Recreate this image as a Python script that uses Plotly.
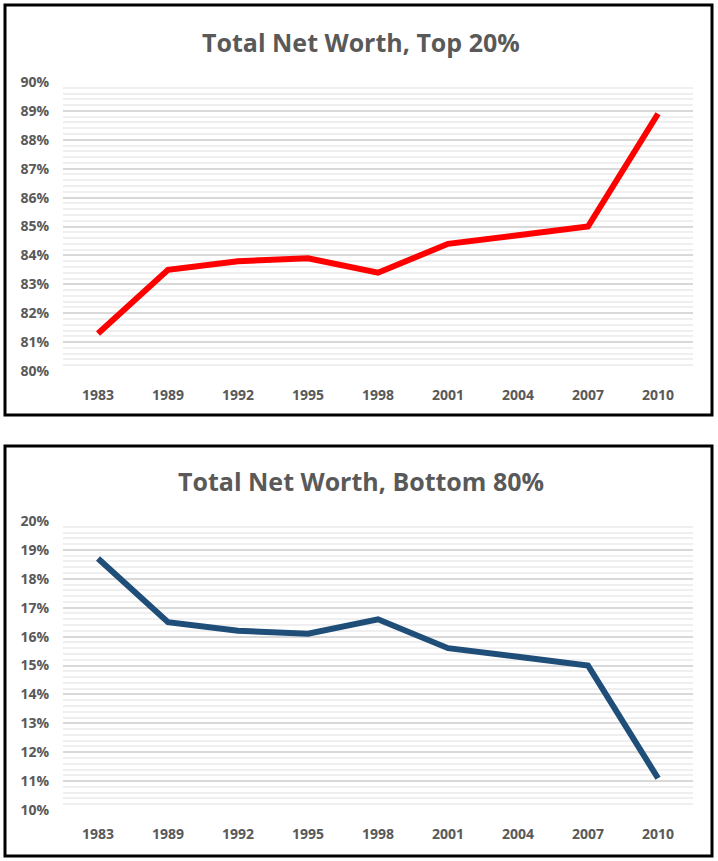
import plotly.graph_objects as go
from plotly.subplots import make_subplots

years = ["1983", "1989", "1992", "1995", "1998", "2001", "2004", "2007", "2010"]
top20 = [81.3, 83.5, 83.8, 83.9, 83.4, 84.4, 84.7, 85.0, 88.9]
bottom80 = [18.7, 16.5, 16.2, 16.1, 16.6, 15.6, 15.3, 15.0, 11.1]

W, H = 718, 861
grey = "#595959"
font = "Open Sans"


def px(x):
    return x / W


def py(y):
    return 1 - y / H


fig = make_subplots(rows=2, cols=1)

fig.add_trace(go.Scatter(x=years, y=top20, mode="lines",
                         line=dict(color="#ff0000", width=6)), row=1, col=1)
fig.add_trace(go.Scatter(x=years, y=bottom80, mode="lines",
                         line=dict(color="#1f4e79", width=6)), row=2, col=1)

xdom = [px(63), px(693)]
fig.update_layout(
    width=W, height=H,
    margin=dict(l=0, r=0, t=0, b=0, autoexpand=False),
    paper_bgcolor="white", plot_bgcolor="white",
    showlegend=False,
    font=dict(family=font, color=grey),
    xaxis=dict(domain=xdom, anchor="y"),
    yaxis=dict(domain=[py(371), py(82)], range=[80, 90]),
    xaxis2=dict(domain=xdom, anchor="y2"),
    yaxis2=dict(domain=[py(810), py(521)], range=[10, 20]),
)

fig.update_xaxes(type="category", range=[-0.5, len(years) - 0.5], automargin=False,
                 showgrid=False, showline=False, zeroline=False,
                 ticks="", tickfont=dict(size=14, family=font, color=grey, weight="bold"),
                 ticklabelstandoff=14)
fig.update_yaxes(dtick=1, ticksuffix="%", automargin=False,
                 showline=False, zeroline=False,
                 gridcolor="#d9d9d9", gridwidth=1.5,
                 minor=dict(dtick=0.2, showgrid=True, gridcolor="#efefef", gridwidth=1.5),
                 tickfont=dict(size=14, family=font, color=grey, weight="bold"),
                 ticklabelstandoff=13)

# panel borders
for y0, y1 in [(5, 415), (446, 856)]:
    fig.add_shape(type="rect", xref="paper", yref="paper",
                  x0=px(5), x1=px(712), y0=py(y1), y1=py(y0),
                  line=dict(color="black", width=3), layer="above")

titles = [("Total Net Worth, Top 20%", 42), ("Total Net Worth, Bottom 80%", 481)]
for text, ypx in titles:
    fig.add_annotation(text=text, xref="paper", yref="paper",
                       x=px(361), y=py(ypx), showarrow=False,
                       xanchor="center", yanchor="middle",
                       font=dict(size=25, family=font, color=grey, weight="bold"))

# drop the default body margin so the figure fills the window
fig.write_html("out.html", config={"displayModeBar": False},
               post_script="document.body.style.margin='0';")
